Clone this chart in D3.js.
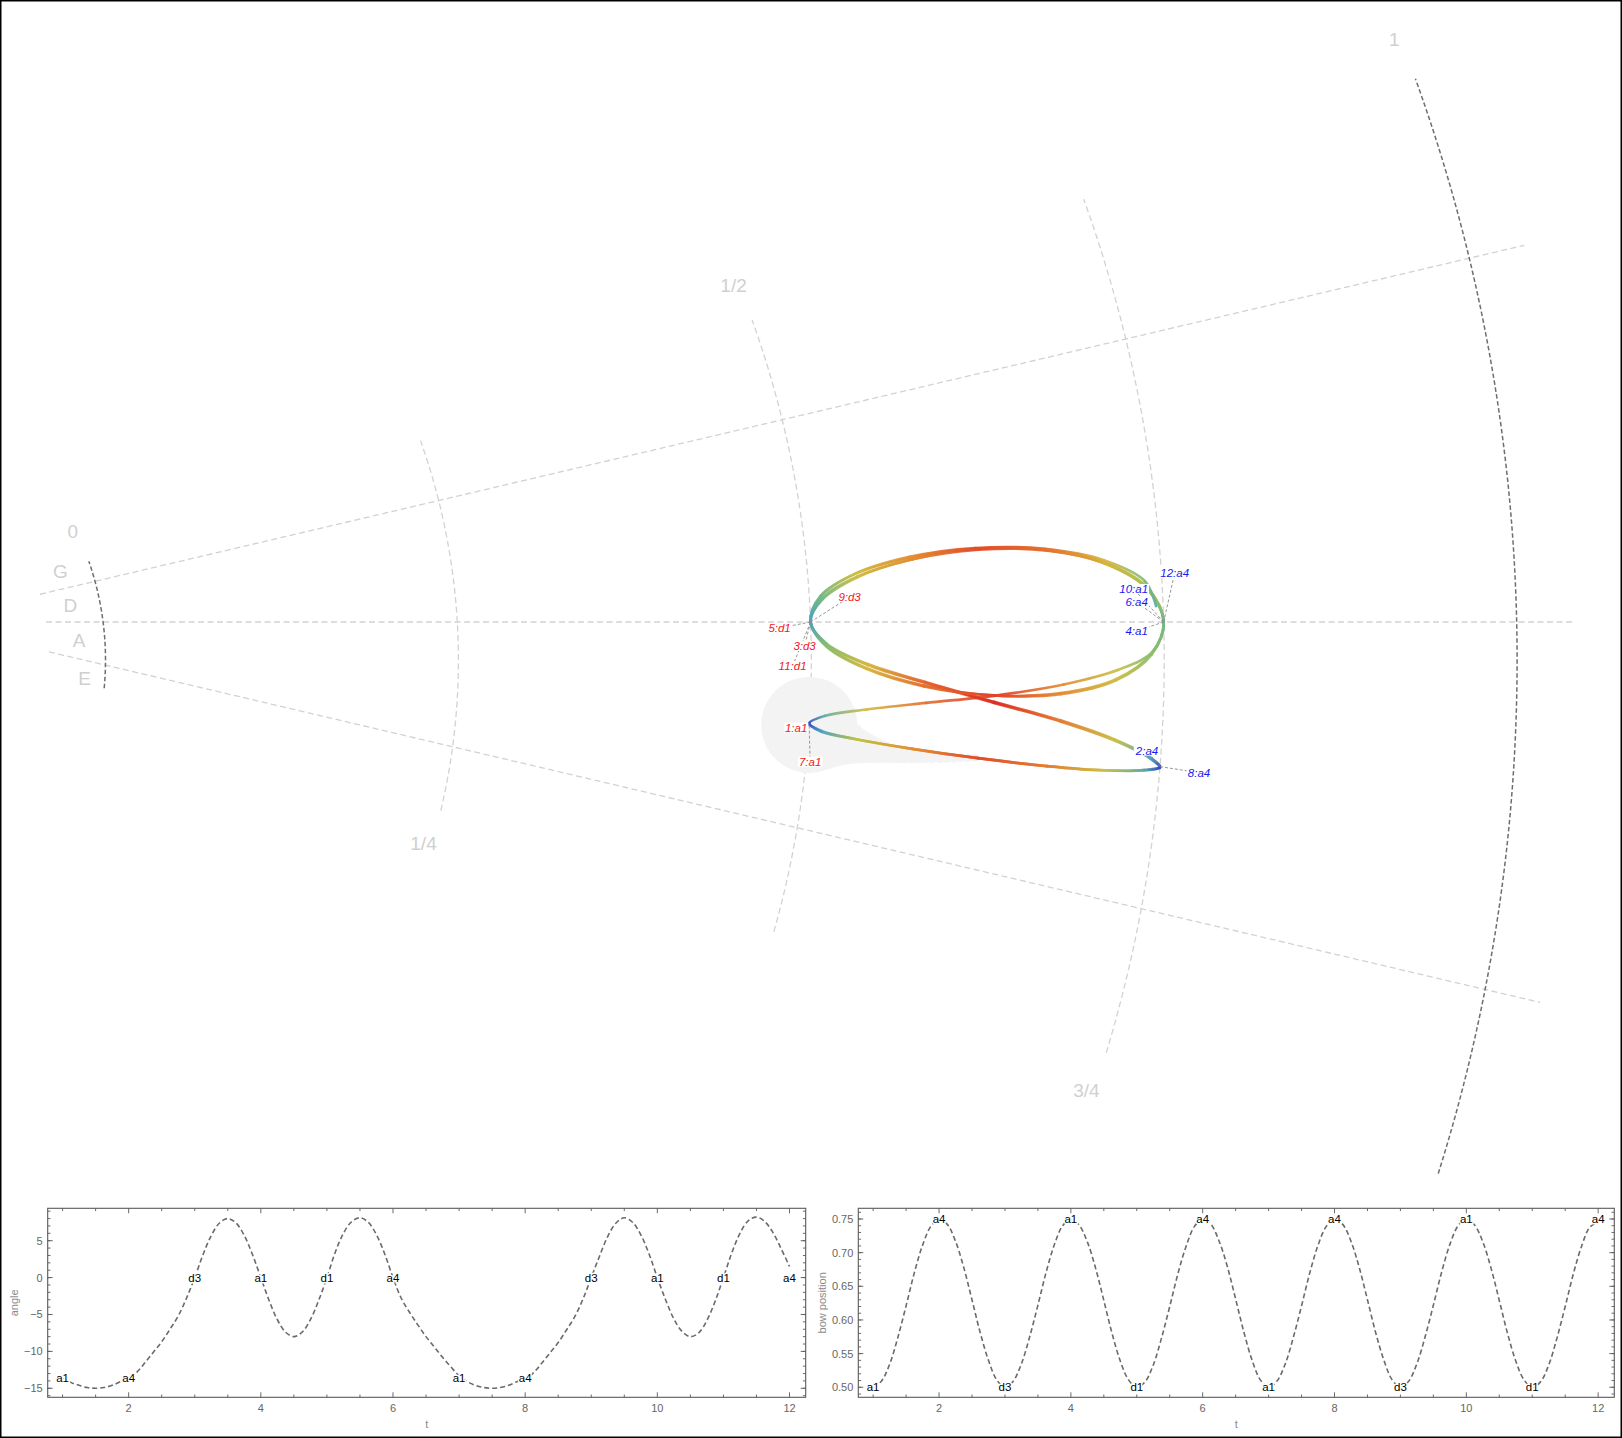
<!DOCTYPE html>
<html><head><meta charset="utf-8">
<script src="https://cdn.jsdelivr.net/npm/d3@7"></script>
<style>
body{margin:0;background:#fff}
svg{display:block}
text{font-family:"Liberation Sans",Arial,Helvetica,sans-serif}
</style>
</head><body>
<svg id="c" width="1622" height="1438"></svg>
<script>
// ---------------- DATA ----------------
// time grid: t = 1 .. 12 in steps of 1/8
const tStart = 1, tStep = 0.125;
const angleValues = [
 -13.5,-14.2,-14.6,-14.9,-15.0,-14.9,-14.6,-14.1,
 -13.6,-12.8,-11.5,-10.1,-8.7,-7.0,-5.2,-2.8,
  0.0, 3.1, 5.7, 7.4, 8.0, 7.4, 5.7, 3.1,
  0.0,-3.1,-5.7,-7.4,-8.0,-7.4,-5.7,-3.1,
  0.0, 3.4, 6.0, 7.6, 8.1, 7.5, 5.8, 3.2,
  0.0,-2.8,-4.7,-6.4,-8.0,-9.4,-10.8,-12.1,
 -13.3,-14.1,-14.6,-14.9,-15.0,-14.9,-14.6,-14.1,
 -13.7,-12.9,-11.6,-10.2,-8.8,-7.1,-5.3,-2.9,
  0.0, 2.9, 5.6, 7.4, 8.1, 7.5, 5.8, 3.2,
  0.0,-3.0,-5.6,-7.3,-8.0,-7.5,-5.8,-3.2,
  0.0, 3.3, 6.0, 7.7, 8.2, 7.6, 6.1, 3.9,
  1.5];
const bowValues = [
 0.500,0.509,0.534,0.574,0.621,0.670,0.711,0.739,
 0.750,0.742,0.717,0.678,0.630,0.581,0.540,0.511,
 0.500,0.509,0.535,0.575,0.622,0.671,0.712,0.740,
 0.750,0.741,0.716,0.677,0.629,0.580,0.539,0.511,
 0.500,0.508,0.533,0.573,0.620,0.669,0.710,0.739,
 0.750,0.742,0.717,0.679,0.631,0.582,0.540,0.511,
 0.500,0.509,0.534,0.574,0.621,0.670,0.711,0.739,
 0.750,0.742,0.717,0.678,0.630,0.581,0.540,0.511,
 0.500,0.509,0.535,0.575,0.622,0.671,0.712,0.740,
 0.750,0.741,0.716,0.677,0.629,0.580,0.539,0.511,
 0.500,0.508,0.533,0.573,0.620,0.669,0.710,0.738,
 0.745];
const noteNames  = ["a1","a4","d3","a1","d1","a4","a1","a4","d3","a1","d1","a4"];
const noteTimes  = [1,2,3,4,5,6,7,8,9,10,11,12];
const noteAngles = [-13.6,-13.6,0,0,0,0,-13.6,-13.6,0,0,0,0];
const noteBows   = [0.5,0.75,0.5,0.75,0.5,0.75,0.5,0.75,0.5,0.75,0.5,0.75];

const stringNames = ["G","D","A","E"];
const stringLabelAngles = [41,13,-14,-39.4];
const stringLabelBows = [-0.0213,-0.021,-0.0182,-0.0144];
const stringBoundaryAngles = [27,0,-27];
const arcLevels = [0,0.25,0.5,0.75,1];
const arcLabels = ["0","1/4","1/2","3/4","1"];
const arcLabelSide = [1,-1,1,-1,1];
const arcAngleLimit = 40.8;

const angleTicks = [-15,-10,-5,0,5];
const bowTicks = [0.50,0.55,0.60,0.65,0.70,0.75];
const tTicks = [2,4,6,8,10,12];

// main-plot label placement (pixel offsets from the note point)
const labelOffsets = [[-13,2],[-13,-16],[-6,24],[-27,9],[-31,6],[-27,-20],[1,36],[39,6],[39,-25],[-30,-33],[-18,44],[11,-49]];

// ---------------- GEOMETRY ----------------
const W = 1622, H = 1438;
const svg = d3.select("#c");
svg.append("rect").attr("x",0.75).attr("y",0.75).attr("width",W-1.5).attr("height",H-1.5)
  .attr("fill","#fff").attr("stroke","#000").attr("stroke-width",1.5);

const apex = [-78, 622];          // convergence point of the string rays
const arcCenter = [-195, 660];    // centre of the bow-position arcs
const radius = d3.scaleLinear().domain([0,1]).range([300.5,1712.1]);
const rayAngle = d3.scaleLinear().domain([-1,1]).range([-0.49*Math.PI/180, 0.49*Math.PI/180]);

function proj(b, a){
  const phi = rayAngle(a);
  const ux = Math.cos(phi), uy = -Math.sin(phi);
  const dx = apex[0]-arcCenter[0], dy = apex[1]-arcCenter[1];
  const R = radius(b);
  const B = dx*ux + dy*uy;
  const C = dx*dx + dy*dy - R*R;
  const s = -B + Math.sqrt(B*B - C);
  return [apex[0] + s*ux, apex[1] + s*uy];
}

const gFan = svg.append("g");
const lineGen = d3.line();

stringBoundaryAngles.forEach(a=>{
  gFan.append("path").attr("d", lineGen([proj(-0.04,a), proj(1.04,a)]))
    .attr("fill","none").attr("stroke","#d2d2d2").attr("stroke-width",1.3)
    .attr("stroke-dasharray","6,3.5");
});

arcLevels.forEach((b,i)=>{
  const dark = (i===0 || i===arcLevels.length-1);
  const aSteps = d3.range(-arcAngleLimit, arcAngleLimit+0.001, 0.4);
  gFan.append("path").attr("d", lineGen(aSteps.map(a=>proj(b,a))))
    .attr("fill","none").attr("stroke", dark ? "#6e6e6e" : "#d2d2d2")
    .attr("stroke-width", dark ? 1.5 : 1.3)
    .attr("stroke-dasharray", dark ? "4.5,2.5" : "6,3.5");
  const side = arcLabelSide[i];
  const end = proj(b, side*arcAngleLimit);
  const off = 34 + 11*b;
  gFan.append("text").attr("x", end[0] - 0.47*off).attr("y", end[1] - side*0.88*off)
    .attr("text-anchor","middle").attr("dominant-baseline","central")
    .attr("font-size",19).attr("fill","#d0d0d0").text(arcLabels[i]);
});

stringNames.forEach((s,i)=>{
  const p = proj(stringLabelBows[i], stringLabelAngles[i]);
  gFan.append("text").attr("x",p[0]).attr("y",p[1]).attr("text-anchor","middle")
    .attr("dominant-baseline","central").attr("font-size",19).attr("fill","#d0d0d0").text(s);
});

// ---------------- TRAJECTORY ----------------
const tValues = angleValues.map((_,i)=>tStart + i*tStep);
const pts = tValues.map((t,i)=>proj(bowValues[i], angleValues[i]));
const n = pts.length;

const segs = [];
let cur = null;
const ctx = {
  moveTo(x,y){cur=[x,y];},
  lineTo(x,y){segs.push({from:cur, c:null, to:[x,y]}); cur=[x,y];},
  bezierCurveTo(a,b,c,d,x,y){segs.push({from:cur, c:[a,b,c,d], to:[x,y]}); cur=[x,y];},
  closePath(){}
};
d3.line().curve(d3.curveCatmullRom.alpha(0.5)).context(ctx)(pts);

function segD(s){
  const p = d3.path();
  p.moveTo(s.from[0], s.from[1]);
  if (s.c) p.bezierCurveTo(s.c[0],s.c[1],s.c[2],s.c[3],s.to[0],s.to[1]);
  else p.lineTo(s.to[0], s.to[1]);
  return p.toString();
}

const speed = pts.map((p,i)=>{
  const a = pts[Math.max(0,i-1)], c = pts[Math.min(n-1,i+1)];
  const dt = (Math.min(n-1,i+1) - Math.max(0,i-1))*tStep;
  return Math.hypot(c[0]-a[0], c[1]-a[1]) / dt;
});
const maxSpeed = d3.max(speed);
const rainbow = d3.scaleLinear()
  .domain([0,0.12,0.25,0.38,0.5,0.62,0.74,0.85,0.93,1])
  .range(["#2a2ec0","#3a6dcc","#4aa0c4","#78bb7c","#a8c44e","#cdbe42","#dcae38","#e38a30","#e4582a","#dc2a1f"]);
const vColor = speed.map(s=>rainbow(Math.pow(s/maxSpeed,1.3)));

// start-point blob
const blobPath = svg.append("path").attr("d", segs.slice(0,5).map(segD).join("")).attr("fill","none").attr("stroke","none");
const blobNode = blobPath.node();
const blobLen = blobNode.getTotalLength();
const gBlob = svg.append("g").attr("fill","#f3f3f3");
const nb = 24;
for (let j=nb; j>=0; j--){
  const l = (j/nb)*blobLen*0.7;
  const q = blobNode.getPointAtLength(l);
  const r = 3 + 45*Math.exp(-3.8*j/nb);
  gBlob.append("circle").attr("cx",q.x).attr("cy",q.y + (j>0 ? 8*Math.sin(Math.PI*j/nb) : 0)).attr("r",r);
}
blobPath.remove();

const defs = svg.append("defs");
const gTraj = svg.append("g").attr("fill","none");
segs.forEach((s,i)=>{
  const id = "g"+i;
  const lg = defs.append("linearGradient").attr("id",id).attr("gradientUnits","userSpaceOnUse")
    .attr("x1",s.from[0]).attr("y1",s.from[1]).attr("x2",s.to[0]).attr("y2",s.to[1]);
  lg.append("stop").attr("offset",0).attr("stop-color",vColor[i]);
  lg.append("stop").attr("offset",1).attr("stop-color",vColor[i+1]);
  gTraj.append("path").attr("d",segD(s)).attr("stroke","url(#"+id+")")
    .attr("stroke-width",2.7).attr("stroke-linecap","round").attr("stroke-opacity",0.9);
});

// note labels in the main plot
const gLead = svg.append("g");
const gLab = svg.append("g");
noteNames.forEach((nm,i)=>{
  const p = proj(noteBows[i], noteAngles[i]);
  const o = labelOffsets[i];
  const col = noteBows[i] < 0.6 ? "#f01818" : "#1818f0";
  const cx = p[0]+o[0], cy = p[1]+o[1];
  const bgr = gLab.append("rect").attr("fill","#fff");
  const tx = gLab.append("text").attr("x",cx).attr("y",cy)
    .attr("text-anchor","middle").attr("dominant-baseline","central")
    .attr("font-size",11.5).attr("font-style","italic").attr("fill",col)
    .text(noteTimes[i]+":"+nm);
  const bb = tx.node().getBBox();
  bgr.attr("x",bb.x-1).attr("y",bb.y+1).attr("width",bb.width+2).attr("height",bb.height-2);
  const hx = bb.width/2+1, hy = bb.height/2-1;
  const vx = p[0]-cx, vy = p[1]-cy;
  const sc = Math.min(Math.abs(vx)>1e-6 ? hx/Math.abs(vx) : Infinity, Math.abs(vy)>1e-6 ? hy/Math.abs(vy) : Infinity);
  if (sc < 0.8){
    gLead.append("line").attr("x1",p[0]).attr("y1",p[1]).attr("x2",cx+vx*sc).attr("y2",cy+vy*sc)
      .attr("stroke","#8a8a8a").attr("stroke-width",0.9).attr("stroke-dasharray","3,2");
  }
});

// ---------------- BOTTOM CHARTS ----------------
function smallChart(opt){
  const g = svg.append("g");
  const x = d3.scaleLinear().domain([0.775,12.245]).range([opt.x0, opt.x1]);
  const y = d3.scaleLinear().domain(opt.yDomain).range([opt.y1, opt.y0]);
  g.append("rect").attr("x",opt.x0).attr("y",opt.y0).attr("width",opt.x1-opt.x0).attr("height",opt.y1-opt.y0)
    .attr("fill","none").attr("stroke","#5a5a5a").attr("stroke-width",1.1);
  const tick = (x1,y1,x2,y2)=>g.append("line").attr("x1",x1).attr("y1",y1).attr("x2",x2).attr("y2",y2)
      .attr("stroke","#5a5a5a").attr("stroke-width",0.9);
  d3.range(1,12.001,0.5).forEach(v=>{
    const major = tTicks.includes(v);
    const L = major ? 5 : 2.8;
    tick(x(v),opt.y1,x(v),opt.y1-L); tick(x(v),opt.y0,x(v),opt.y0+L);
  });
  tTicks.forEach(v=>{
    g.append("text").attr("x",x(v)).attr("y",opt.y1+15).attr("text-anchor","middle")
      .attr("font-size",11).attr("fill","#666").text(v);
  });
  opt.yMinor.forEach(v=>{
    tick(opt.x0,y(v),opt.x0+2.8,y(v)); tick(opt.x1,y(v),opt.x1-2.8,y(v));
  });
  opt.yMajor.forEach(v=>{
    tick(opt.x0,y(v),opt.x0+5,y(v)); tick(opt.x1,y(v),opt.x1-5,y(v));
    g.append("text").attr("x",opt.x0-5).attr("y",y(v)).attr("dominant-baseline","central")
      .attr("text-anchor","end").attr("font-size",11).attr("fill","#666").text(opt.fmt(v));
  });
  g.append("text").attr("x",(opt.x0+opt.x1)/2).attr("y",opt.y1+31).attr("text-anchor","middle")
    .attr("font-size",11).attr("fill","#8a8a8a").text("t");
  g.append("text").attr("transform",`translate(${opt.labelX},${(opt.y0+opt.y1)/2}) rotate(-90)`)
    .attr("text-anchor","middle").attr("dominant-baseline","central")
    .attr("font-size",11).attr("fill","#8a8a8a").text(opt.ylabel);
  g.append("path").datum(opt.values.map((v,i)=>[tValues[i],v]))
    .attr("d", d3.line().x(d=>x(d[0])).y(d=>y(d[1])).curve(d3.curveCatmullRom.alpha(0.5)))
    .attr("fill","none").attr("stroke","#6a6a6a").attr("stroke-width",1.6).attr("stroke-dasharray","5,3");
  noteNames.forEach((nm,i)=>{
    g.append("text").attr("x",x(noteTimes[i])).attr("y",y(opt.targets[i]))
      .attr("text-anchor","middle").attr("dominant-baseline","central")
      .attr("font-size",11.5).attr("fill","#000")
      .attr("stroke","#fff").attr("stroke-width",3).attr("paint-order","stroke")
      .text(nm);
  });
}
smallChart({x0:47.7, x1:805.7, y0:1208.3, y1:1397.3, yDomain:[-16.22,9.39],
  yMajor:angleTicks, yMinor:d3.range(-16,10,1), values:angleValues, targets:noteAngles,
  ylabel:"angle", labelX:13.5, fmt:v=>String(v).replace("-","\u2212")});
smallChart({x0:858.3, x1:1614.3, y0:1208.3, y1:1397.3, yDomain:[0.4851,0.7659],
  yMajor:bowTicks, yMinor:d3.range(0.49,0.7651,0.01), values:bowValues, targets:noteBows,
  ylabel:"bow position", labelX:821.7, fmt:d3.format(".2f")});
</script>
</body></html>
